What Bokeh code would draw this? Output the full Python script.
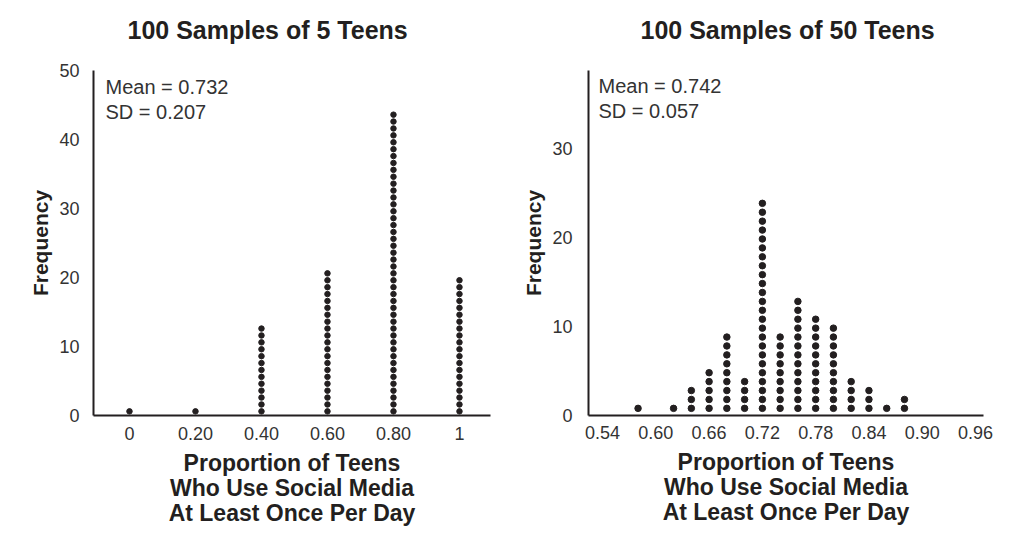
from bokeh.plotting import figure
from bokeh.layouts import row
from bokeh.models import Range1d, Label, FixedTicker, Title
from bokeh.embed import file_html
from bokeh.resources import INLINE

# ---- data ----
left_title = "100 Samples of 5 Teens"
right_title = "100 Samples of 50 Teens"
left_props = [0.0, 0.2, 0.4, 0.6, 0.8, 1.0]
left_counts = [1, 1, 13, 21, 44, 20]
right_props = [0.58, 0.62, 0.64, 0.66, 0.68, 0.70, 0.72, 0.74, 0.76, 0.78, 0.80, 0.82, 0.84, 0.86, 0.88]
right_counts = [1, 1, 3, 5, 9, 4, 24, 9, 13, 11, 10, 4, 3, 1, 2]
left_stats = ["Mean = 0.732", "SD = 0.207"]
right_stats = ["Mean = 0.742", "SD = 0.057"]
left_xticks = [0, 0.2, 0.4, 0.6, 0.8, 1.0]
left_xlabels = ["0", "0.20", "0.40", "0.60", "0.80", "1"]
right_xticks = [0.54, 0.60, 0.66, 0.72, 0.78, 0.84, 0.90, 0.96]
right_xlabels = ["0.54", "0.60", "0.66", "0.72", "0.78", "0.84", "0.90", "0.96"]
left_yticks = [0, 10, 20, 30, 40, 50]
right_yticks = [0, 10, 20, 30]
xlabel_lines = ["Proportion of Teens", "Who Use Social Media", "At Least Once Per Day"]
ylabel = "Frequency"

FONT = "Liberation Sans"
INK = "#231f20"
TICK = "#333333"


def make_panel(title, props, counts, stats, xticks, xlabels, yticks,
               xr, yr, borders, dot_size, dot_off, title_offset, stats_pos,
               xstand, ystand, ylab_stand):
    bl, br, bt, bb = borders
    p = figure(width=511, height=542, output_backend="svg", toolbar_location=None,
               x_range=Range1d(*xr), y_range=Range1d(*yr),
               min_border_left=bl, min_border_right=br,
               min_border_top=bt, min_border_bottom=bb)
    p.outline_line_color = None
    p.grid.visible = False
    p.background_fill_color = "white"
    p.border_fill_color = "white"

    for ax in (p.xaxis[0], p.yaxis[0]):
        ax.axis_line_color = INK
        ax.axis_line_width = 2
        ax.major_tick_line_color = None
        ax.minor_tick_line_color = None
        ax.major_label_text_font = FONT
        ax.major_label_text_font_size = "18px"
        ax.major_label_text_color = TICK

    p.xaxis.ticker = FixedTicker(ticks=xticks)
    p.xaxis.major_label_overrides = {t: l for t, l in zip(xticks, xlabels)}
    p.xaxis.major_label_standoff = xstand
    p.xaxis.axis_label = "\n".join(xlabel_lines)
    p.xaxis.axis_label_text_font = FONT
    p.xaxis.axis_label_text_font_style = "bold"
    p.xaxis.axis_label_text_font_size = "23px"
    p.xaxis.axis_label_text_color = INK
    p.xaxis.axis_label_text_line_height = 0.98
    p.xaxis.axis_label_standoff = 7

    p.yaxis.ticker = FixedTicker(ticks=yticks)
    p.yaxis.major_label_standoff = ystand
    p.yaxis.axis_label = ylabel
    p.yaxis.axis_label_text_font = FONT
    p.yaxis.axis_label_text_font_style = "bold"
    p.yaxis.axis_label_text_font_size = "21px"
    p.yaxis.axis_label_text_color = INK
    p.yaxis.axis_label_standoff = ylab_stand

    xs, ys = [], []
    for x, c in zip(props, counts):
        for i in range(c):
            xs.append(x)
            ys.append(i + dot_off)
    p.scatter(xs, ys, size=dot_size, color=INK)

    # invisible spacer closest to the frame, then the real title above it
    spacer = Title(text=" ", text_font=FONT, text_font_size="10px",
                   text_color="white", standoff=8)
    p.add_layout(spacer, "above")
    t = Title(text=title, align="left", offset=title_offset,
              text_font=FONT, text_font_style="bold", text_font_size="25px",
              text_color=INK, standoff=11)
    p.add_layout(t, "above")

    for s, yy in zip(stats, stats_pos[1]):
        p.add_layout(Label(x=stats_pos[0], y=yy, text=s, text_font=FONT,
                           text_font_size="20px", text_color=TICK,
                           text_align="left", text_baseline="middle"))
    return p


p1 = make_panel(left_title, left_props, left_counts, left_stats,
                left_xticks, left_xlabels, left_yticks,
                xr=(-0.109, 1.094), yr=(0, 50), borders=(93, 21, 68, 127),
                dot_size=5.5, dot_off=0.6, title_offset=34,
                stats_pos=(-0.0726, [47.6, 44.0]),
                xstand=5, ystand=8, ylab_stand=4)

p2 = make_panel(right_title, right_props, right_counts, right_stats,
                right_xticks, right_xlabels, right_yticks,
                xr=(0.5242, 0.969), yr=(0, 38.7), borders=(77, 39, 70, 125),
                dot_size=6.5, dot_off=0.8, title_offset=52,
                stats_pos=(0.5355, [37.0, 34.2]),
                xstand=4, ystand=10, ylab_stand=4)

layout = row(p1, p2, spacing=0)
open("out.html", "w").write(file_html(layout, INLINE))
